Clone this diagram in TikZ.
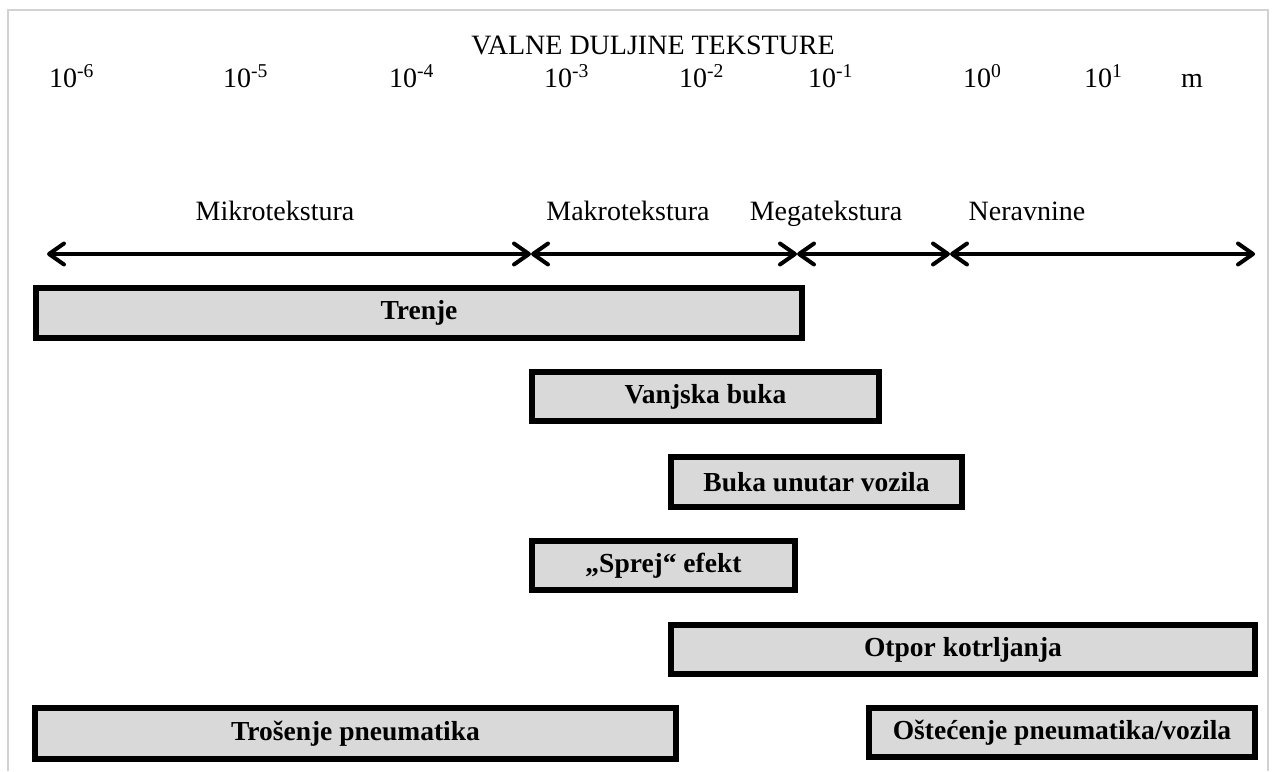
\documentclass[tikz,border=0pt]{standalone}
\usepackage{fontspec}
\setmainfont{Liberation Serif}
\usetikzlibrary{arrows.meta}
\definecolor{boxfill}{HTML}{D9D9D9}
\definecolor{framegray}{HTML}{D2D2D2}
\begin{document}
\begin{tikzpicture}[x=1pt,y=-1pt,
  lbl/.style={font=\fontsize{28}{32}\selectfont, inner sep=0pt, anchor=base},
  explbl/.style={font=\fontsize{28}{32}\selectfont, inner sep=0pt, anchor=base west},
  barbox/.style={draw=black, line width=6pt, fill=boxfill, inner sep=0pt, outer sep=0pt,
    font=\fontsize{27.5}{32}\selectfont\bfseries},
  rangearrow/.style={line width=4pt,
    {Straight Barb[length=15pt,width=21pt,line cap=round,line join=round]}-{Straight Barb[length=15pt,width=21pt,line cap=round,line join=round]}}
]
\useasboundingbox (0,0) rectangle (1273,771);
\fill[white] (0,0) rectangle (1273,771);
\draw[framegray, line width=2pt] (8,771) -- (8,10) -- (1268,10) -- (1268,771);

% title and scale labels
\node[lbl] (title) at (653,54) {VALNE DULJINE TEKSTURE};
\node[explbl] (e6) at (49,87) {10\textsuperscript{-6}};
\node[explbl] (e5) at (223,87) {10\textsuperscript{-5}};
\node[explbl] (e4) at (389,87) {10\textsuperscript{-4}};
\node[explbl] (e3) at (544,87) {10\textsuperscript{-3}};
\node[explbl] (e2) at (679,87) {10\textsuperscript{-2}};
\node[explbl] (e1) at (808,87) {10\textsuperscript{-1}};
\node[explbl] (e0) at (963,87) {10\textsuperscript{0}};
\node[explbl] (ep1) at (1084,87) {10\textsuperscript{1}};
\node[explbl] (em) at (1181,87) {m};

% texture ranges
\node[lbl] (mikro) at (275,220) {Mikrotekstura};
\node[lbl] (makro) at (628,220) {Makrotekstura};
\node[lbl] (mega) at (826,220) {Megatekstura};
\node[lbl] (nerav) at (1027,220) {Neravnine};

\coordinate (s0) at (47,254);
\coordinate (s1) at (531,254);
\coordinate (s2) at (797,254);
\coordinate (s3) at (950,254);
\coordinate (s4) at (1255,254);
\draw[rangearrow] (s0) -- (s1);
\draw[rangearrow] (s1) -- (s2);
\draw[rangearrow] (s2) -- (s3);
\draw[rangearrow] (s3) -- (s4);

% bars
\node[barbox, minimum width=766pt, minimum height=50pt] (trenje) at (419,313) {Trenje};
\node[barbox, minimum width=347pt, minimum height=49pt] (vanjska) at (705.5,396.5) {Vanjska buka};
\node[barbox, minimum width=291pt, minimum height=50pt] (unutar) at (816.5,482) {Buka unutar vozila};
\node[barbox, minimum width=263pt, minimum height=49pt] (sprej) at (663.5,565.5) {„Sprej“ efekt};
\node[barbox, minimum width=584pt, minimum height=49pt] (otpor) at (963,649.5) {Otpor kotrljanja};
\node[barbox, minimum width=641pt, minimum height=51pt] (trosenje) at (355.5,733.5) {Trošenje pneumatika};
\node[barbox, minimum width=386pt, minimum height=49pt] (ostecenje) at (1062,732.5) {Oštećenje pneumatika/vozila};
\end{tikzpicture}
\end{document}
